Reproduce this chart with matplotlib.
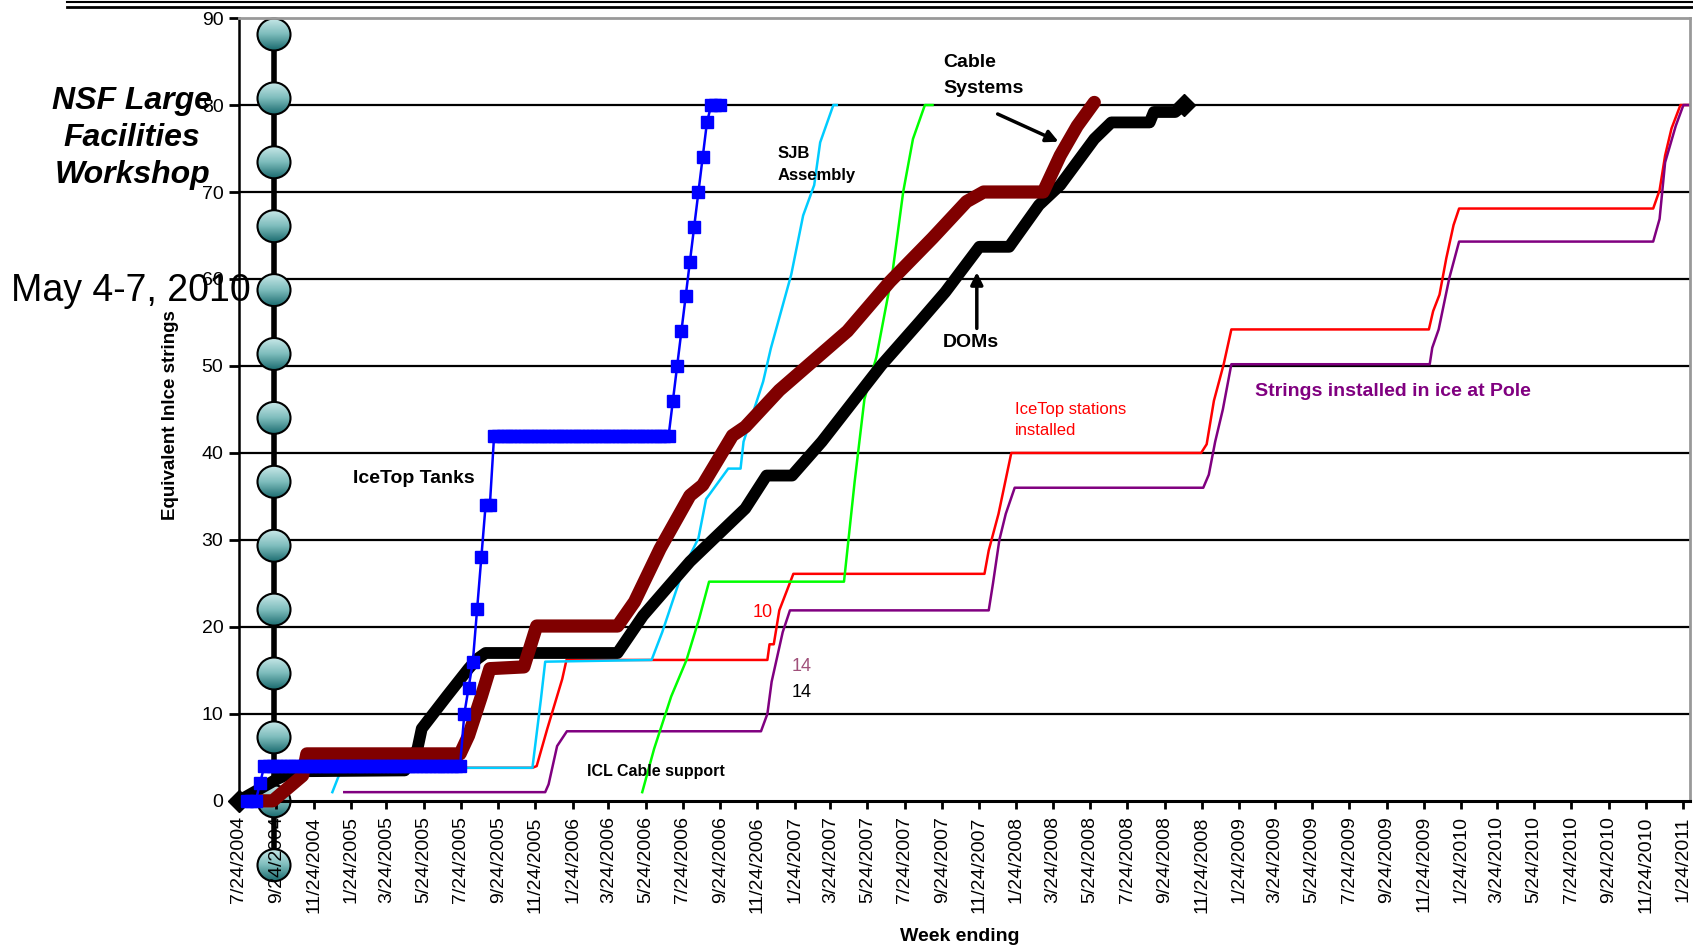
import numpy as np
import pandas as pd
import matplotlib
matplotlib.use("Agg")
import matplotlib.pyplot as plt
from matplotlib.patches import Ellipse
from matplotlib.colors import LinearSegmentedColormap

plt.rcParams['font.family'] = ['Liberation Sans', 'DejaVu Sans']

# weeks counted from the first "week ending" 7/24/2004
start = pd.Timestamp('2004-07-24')

# IceTop tanks: one value per week, starting at week 2
tank_vals = [0]*3 + [2] + [4]*47 + [10, 13, 16, 22, 28, 34, 34] + [42]*42 + \
            [46, 50, 54, 58, 62, 66, 70, 74, 78] + [80]*3
tank_first_week = 2

# DOMs
dom_week = [0, 9, 13, 39, 42, 43, 49, 54, 56, 58, 89, 95, 106, 119, 124, 130, 137,
            151, 160, 166, 174, 181, 188, 193, 201, 205, 214, 215, 220, 222]
dom_val = [0, 2.5, 3.4, 3.5, 6, 8.3, 12.1, 15.2, 16.3, 17, 17, 21.3, 27.5, 33.6, 37.4,
           37.4, 41.3, 50.1, 55.1, 58.5, 63.7, 63.7, 68.5, 70.8, 76.1, 78, 78, 79.2, 79.2, 80]

# Cable systems
cable_week = [5, 8, 15, 16, 52, 54, 57, 59, 67, 70, 89, 93, 99, 106, 109, 116, 119, 127,
              143, 153, 163, 171, 175, 189, 193, 197, 201]
cable_val = [0, 0, 2.9, 5.4, 5.4, 7.5, 12, 15.2, 15.4, 20.1, 20.1, 22.9, 29, 35.1, 36.3,
             42, 43, 47.2, 54, 59.7, 64.7, 68.9, 70, 70, 74.2, 77.6, 80.3]

# SJB assembly
sjb_week = [22, 24, 25, 69, 71, 72, 97, 99.5, 104.5, 108, 109.8, 115, 117.9, 118.6,
            123.2, 125, 129.8, 132.6, 135.2, 136.6, 139.7, 140.5]
sjb_val = [1, 3.5, 3.8, 3.8, 11.7, 16, 16.2, 19.4, 26.7, 30.2, 34.7, 38.2, 38.2, 41.3,
           48.2, 52, 60.5, 67.3, 70.8, 75.7, 80, 80]

# ICL cable support
icl_week = [94.8, 97.6, 101.6, 105.2, 108.2, 110.5, 142.2, 144.7, 147, 149.8, 153.6,
            156.1, 158.4, 161.2, 163]
icl_val = [1, 6, 12, 16.2, 21, 25.2, 25.2, 36.7, 46.2, 51, 60.8, 70, 76.1, 80, 80]

# IceTop stations installed
station_week = [25, 69, 70, 72.5, 76, 77, 124.2, 124.7, 125.7, 127, 130.3, 175.2, 176.2,
                178.5, 181.5, 226.1, 227.4, 229.1, 231.4, 233.2, 279.6, 280.6, 282.1,
                283.7, 285.4, 286.7, 332.3, 333.8, 335.1, 336.6, 338.7, 340.7]
station_val = [3.8, 3.8, 4, 8.3, 14, 16.2, 16.2, 18, 18, 21.9, 26.1, 26.1, 28.8, 33, 40,
               40, 41, 46, 50.2, 54.2, 54.2, 56.3, 58.2, 62.4, 66.2, 68.1, 68.1, 70.2,
               74.2, 77.3, 80, 80]

# Strings installed in ice
string_week = [24.8, 72, 72.8, 74.8, 77.1, 122.7, 124.2, 125.2, 127.8, 129.5, 176.2,
               177.2, 178.7, 180.2, 182.3, 226.6, 227.9, 229.4, 231.2, 233.2, 279.8,
               280.4, 281.9, 284.4, 286.7, 332.3, 333.8, 335.1, 337.6, 339.4, 340.7]
string_val = [1, 1, 1.9, 6.3, 8, 8, 10, 13.7, 19.4, 21.9, 21.9, 25, 30, 33, 36, 36, 37.5,
              41.3, 45, 50.2, 50.2, 52.1, 54.2, 60.1, 64.3, 64.3, 66.9, 73.4, 77.6, 80, 80]

tick_dates = [start + pd.DateOffset(months=2 * i) for i in range(40)]
tick_labels = [f"{d.month}/{d.day}/{d.year}" for d in tick_dates]
y_ticks = list(range(0, 91, 10))


def wk(weeks):
    return start + pd.to_timedelta(np.asarray(weeks, dtype=float) * 7, unit='D')


def wk1(week):
    return start + pd.Timedelta(days=week * 7)


W, H = 1693, 950
fig = plt.figure(figsize=(W / 100, H / 100), dpi=100)
pos = [0.141, 0.157, 0.857, 0.824]

# horizontal grid lines (below the slide decoration)
grid_ax = fig.add_axes(pos, zorder=1)
grid_ax.set_ylim(0, 90)
for v in y_ticks[1:-1]:
    grid_ax.axhline(v, color='black', lw=1.6)
grid_ax.axis('off')

# slide decoration: bead column, double rule, workshop title
deco = fig.add_axes([0, 0, 1, 1], zorder=2)
deco.patch.set_alpha(0)
teal = LinearSegmentedColormap.from_list('teal', ['#c8e8e8', '#7dbcbc', '#1c6c70'])
grad = np.linspace(0, 1, 64).reshape(-1, 1)
deco.plot([274, 274], [25, 866], color='black', lw=4, zorder=0)
for i in range(14):
    cy = 34.5 + 63.9 * i
    e = Ellipse((274, cy), 33, 32, facecolor='none', edgecolor='black', lw=1.5, zorder=2)
    deco.add_patch(e)
    im = deco.imshow(grad, cmap=teal, extent=[257, 291, cy + 16, cy - 16],
                     aspect='auto', zorder=1)
    im.set_clip_path(e)
deco.plot([67, W], [2, 2], color='black', lw=1.5)
deco.plot([67, W], [6.5, 6.5], color='black', lw=2)
deco.text(132, 138, 'NSF Large\nFacilities\nWorkshop', ha='center', va='center',
          fontsize=23, fontweight='bold', fontstyle='italic', linespacing=1.3)
deco.text(11, 291, 'May 4-7, 2010', ha='left', va='center', fontsize=27)
deco.set_xlim(0, W)
deco.set_ylim(H, 0)
deco.axis('off')

# the chart itself
ax = fig.add_axes(pos, zorder=3)
ax.patch.set_alpha(0)

ax.plot(wk(station_week), station_val, color='#ff0000', lw=1.8, zorder=2, clip_on=False)
ax.plot(wk(string_week), string_val, color='#800080', lw=1.8, zorder=2, clip_on=False)
ax.plot(wk(sjb_week), sjb_val, color='#00ccff', lw=1.8, zorder=2.1, clip_on=False)
ax.plot(wk(icl_week), icl_val, color='#00ff00', lw=1.8, zorder=2.1, clip_on=False)
ax.plot(wk(dom_week), dom_val, color='black', lw=8.5, marker='D', ms=11,
        markevery=[0, -1], solid_joinstyle='round', zorder=3, clip_on=False)
ax.plot(wk(cable_week), cable_val, color='#800000', lw=9.5, solid_joinstyle='round',
        solid_capstyle='round', zorder=4, clip_on=False)
tank_week = np.arange(tank_first_week, tank_first_week + len(tank_vals))
ax.plot(wk(tank_week), tank_vals, color='#0000ff', lw=1.8, marker='s', ms=8.5,
        zorder=5, clip_on=False)

ax.set_ylim(0, 90)
ax.set_xlim(start, pd.Timestamp('2011-02-04'))
ax.set_yticks(y_ticks)
ax.set_xticks(tick_dates)
ax.set_xticklabels(tick_labels, rotation=90)
ax.tick_params(axis='x', direction='out', length=6, width=2, labelsize=14, pad=5)
ax.tick_params(axis='y', direction='out', length=7, width=2, labelsize=14, pad=4)
ax.spines['left'].set_linewidth(1.8)
ax.spines['bottom'].set_linewidth(2.2)
for s in ('top', 'right'):
    ax.spines[s].set_color('#999999')
    ax.spines[s].set_linewidth(2)

# labels on the chart
bold = dict(fontweight='bold', color='black')
ax.text(wk1(41.1), 37.1, 'IceTop Tanks', ha='center', va='center', fontsize=14, **bold)
ax.text(wk1(126.7), 73.2, 'SJB\nAssembly', ha='left', va='center', fontsize=12,
        linespacing=1.6, **bold)
ax.text(wk1(165.5), 83.35, 'Cable\nSystems', ha='left', va='center', fontsize=14,
        linespacing=1.7, **bold)
ax.text(wk1(165.5), 52.7, 'DOMs', ha='left', va='center', fontsize=14, **bold)
ax.text(wk1(81.9), 3.35, 'ICL Cable support', ha='left', va='center', fontsize=11.5, **bold)
ax.text(wk1(182.3), 43.8, 'IceTop stations\ninstalled', ha='left', va='center',
        fontsize=12, color='#ff0000', linespacing=1.45)
ax.text(wk1(238.8), 47.1, 'Strings installed in ice at Pole', ha='left', va='center',
        fontsize=14, fontweight='bold', color='#800080')
ax.text(wk1(120.7), 21.6, '10', ha='left', va='center', fontsize=13, color='#ff0000')
ax.text(wk1(129.8), 15.4, '14', ha='left', va='center', fontsize=13, color='#a0507a')
ax.text(wk1(129.8), 12.5, '14', ha='left', va='center', fontsize=13, color='black')

arrow = dict(arrowstyle='-|>', color='black', lw=2.5, mutation_scale=18)
ax.annotate('', xy=(wk1(193.2), 75.65), xytext=(wk1(177.7), 79.1), arrowprops=arrow)
ax.annotate('', xy=(wk1(173.4), 61.1), xytext=(wk1(173.4), 54.0), arrowprops=arrow)

fig.text(0.567, 0.0137, 'Week ending', ha='center', va='center', fontsize=14,
         fontweight='bold')
fig.text(0.1008, 0.5636, 'Equivalent Inlce strings', ha='center', va='center',
         rotation=90, fontsize=13.5, fontweight='bold')

fig.savefig('out.png', dpi=100, facecolor='white')
